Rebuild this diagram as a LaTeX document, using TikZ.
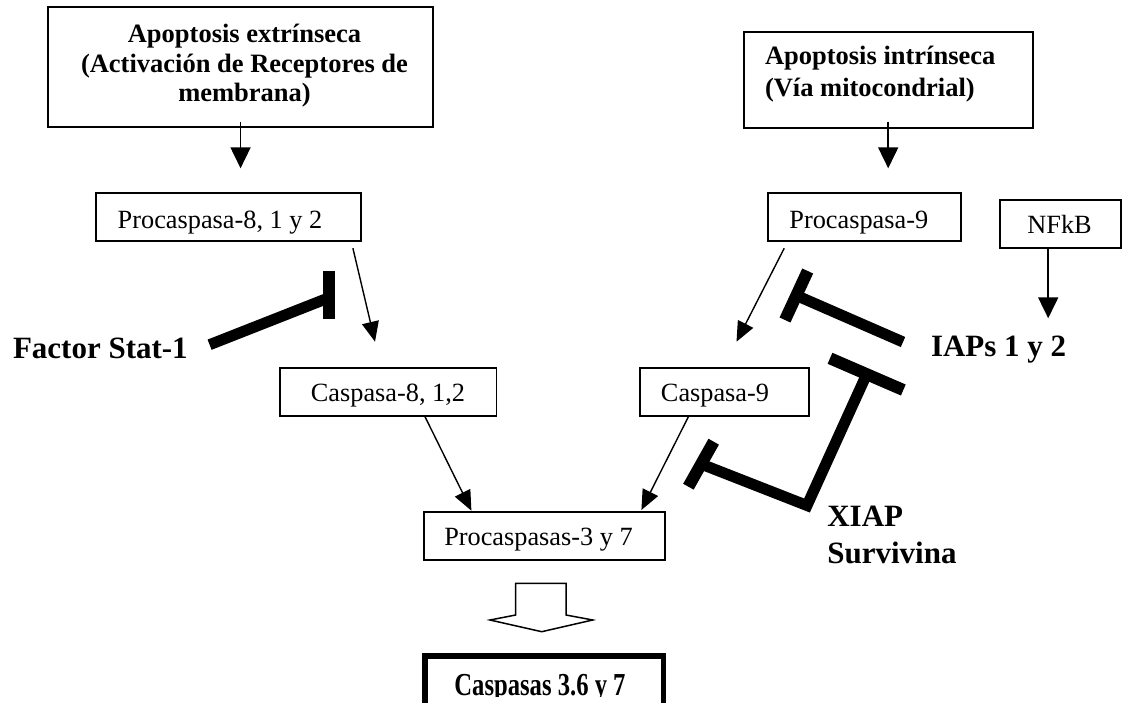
\documentclass[tikz,border=0pt]{standalone}
\usepackage{graphicx}
\usepackage{fontspec}
\setmainfont{Liberation Serif}
\usetikzlibrary{arrows.meta}
\newcommand\regtxt{\fontsize{26.3}{30}\selectfont}
\newcommand\headtxt{\fontsize{26.5}{30}\selectfont\bfseries}
\newcommand\labtxt{\fontsize{31}{37}\selectfont\bfseries}
\newcommand\fintxt{\fontsize{32}{36}\selectfont\bfseries}
\tikzset{
  box/.style={draw, line width=1.8pt, inner sep=0pt, outer sep=0pt},
  thickbox/.style={draw, line width=5.5pt, inner sep=0pt, outer sep=0pt},
  txt/.style={inner sep=0pt, outer sep=0pt, anchor=base, font=\regtxt},
  head/.style={inner sep=0pt, outer sep=0pt, anchor=base, font=\headtxt},
  lab/.style={inner sep=0pt, outer sep=0pt, anchor=base west, font=\labtxt},
  fin/.style={inner sep=0pt, outer sep=0pt, anchor=base, font=\fintxt},
  arr/.style={-{Triangle[length=21pt,width=20pt]}, line width=1.8pt},
  darr/.style={-{Triangle[length=20pt,width=17pt]}, line width=1.4pt},
  inh/.style={line width=11pt},
  tbar/.style={line width=12pt},
  blockarrow/.style={draw, fill=white, line width=1.5pt, line join=miter}
}
\begin{document}
\begin{tikzpicture}[x=1pt,y=-1pt]
\useasboundingbox (0,0) rectangle (1127,703);
\fill[white] (0,0) rectangle (1127,703);

% --- boxes ---
\node[box, minimum width=384.7, minimum height=120] (ext) at (240.55,67.3) {};
\node[box, minimum width=289, minimum height=96] (int) at (888.2,79.7) {};
\node[box, minimum width=265, minimum height=48] (pro8) at (228.2,216.7) {};
\node[box, minimum width=192.7, minimum height=48.3] (pro9) at (864.35,216.85) {};
\node[box, minimum width=121.2, minimum height=48] (nfkb) at (1060.7,223.7) {};
\node[box, minimum width=216.8, minimum height=48.3] (c8) at (388,391.85) {};
\node[box, minimum width=169.2, minimum height=48.3] (c9) at (724.2,391.85) {};
\node[box, minimum width=240.9, minimum height=48.3] (pro37) at (544.45,535.85) {};
\node[thickbox, minimum width=238.5, minimum height=60] (final) at (544,685.75) {};

% --- box texts ---
\node[head] (ext1) at (244.5,42.7) {Apoptosis extrínseca};
\node[head] (ext2) at (244.5,72.7) {(Activación de Receptores de};
\node[head] (ext3) at (244.5,101.7) {membrana)};
\node[head, anchor=base west] (int1) at (765,65) {Apoptosis intrínseca};
\node[head, anchor=base west] (int2) at (765,96.7) {(Vía mitocondrial)};
\node[txt] (pro8t) at (220,228.3) {Procaspasa-8, 1 y 2};
\node[txt] (pro9t) at (858.8,228.3) {Procaspasa-9};
\node[txt] (nfkbt) at (1059.6,233.3) {NFkB};
\node[txt] (c8t) at (388,401.7) {Caspasa-8, 1,2};
\node[txt] (c9t) at (715,401.7) {Caspasa-9};
\node[txt] (pro37t) at (538.5,545) {Procaspasas-3 y 7};
\begin{scope}
  \clip (0,0) rectangle (1127,696.5);
  \node[fin] (finalt) at (540,695) {\scalebox{0.77}[1]{Caspasas 3.6 y 7}};
\end{scope}

% --- free labels ---
\node[lab] (stat) at (13,358) {Factor Stat-1};
\node[lab] (iaps) at (931,356) {IAPs 1 y 2};
\node[lab] (xiap) at (827.3,526) {XIAP};
\node[lab] (surv) at (827.3,563.3) {Survivina};

% --- activation arrows ---
\draw[arr] ([yshift=5.6pt]ext.south) -- ([yshift=24.4pt]ext.south |- pro8.north);
\draw[arr] ([yshift=6pt]int.south) -- ([yshift=24.4pt]int.south |- pro9.north);
\draw[arr] ([xshift=-12.5pt]nfkb.south) -- ++(0,70.6);
\draw[darr] ([shift={(-7.8,7.5)}]pro8.south east) -- ([shift={(-13,-26)}]c8.north);
\draw[darr] ([shift={(16.2,7.3)}]pro9.south west) -- ([shift={(12.3,-26)}]c9.north);
\draw[darr] ([shift={(37,0.7)}]c8.south) -- ([shift={(47.4,-1)}]pro37.north west);
\draw[darr] ([shift={(-35.8,0.7)}]c9.south) -- ([shift={(-23.5,-1.7)}]pro37.north east);

% --- block arrow to the effector caspases ---
\draw[blockarrow] (515.7,583.3) -- (566,583.3) -- (566,615) -- (592.7,620)
  -- (541.7,631.7) -- (490,620) -- (515.7,615) -- cycle;

% --- inhibition by Stat-1 ---
\coordinate (s1) at (209.6,344.7);
\coordinate (s2) at (327,298.5);
\draw[inh] (s1) -- (s2);
\draw[tbar] (328.5,271) -- (328.5,319);

% --- inhibition of procaspasa-9 activation by IAPs ---
\coordinate (i1) at (903,342);
\coordinate (i2) at (796.4,295.5);
\draw[inh] (i1) -- (i2);
\draw[tbar] (807.7,271) -- (785,320);

% --- XIAP / Survivina: blocks IAPs and caspasa-9 action ---
\draw[tbar] (830,358.3) -- (903.3,390);
\draw[inh, line join=miter] (866.7,374.2) -- (807,505.5) -- (701,464);
\draw[tbar] (713.7,441.7) -- (688.4,486.7);
\end{tikzpicture}
\end{document}
